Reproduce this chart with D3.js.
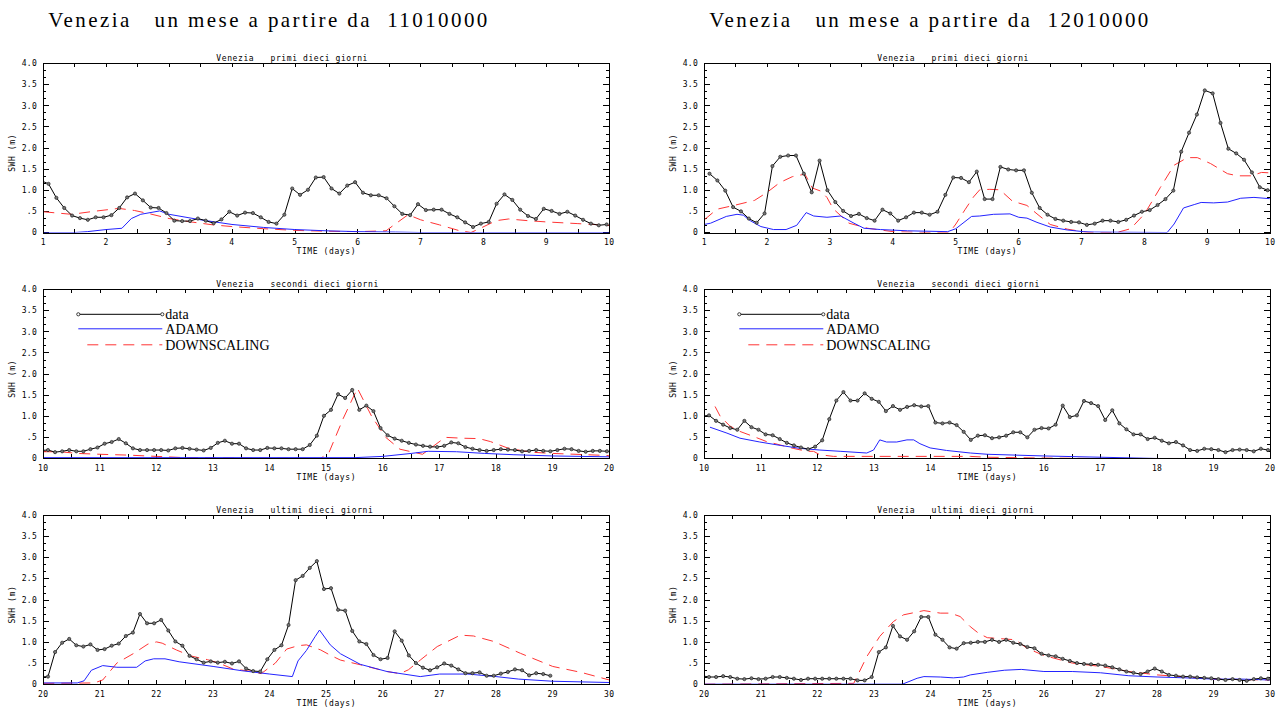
<!DOCTYPE html>
<meta charset="utf-8">
<style>
body { margin: 0; background: #fff; }
svg text { font-family: 'DejaVu Sans Mono', monospace; font-size: 8px; fill: #000; }
svg text.serif { font-family: 'Liberation Serif', serif; }
</style>
<body></body>
<script src="https://cdn.jsdelivr.net/npm/d3@7"></script>
<script>
var width = 1279,
    height = 711

var monthLabels = ['11010000', '12010000']
var panelNames = ['primi dieci giorni', 'secondi dieci giorni', 'ultimi dieci giorni']
var panelDays = [[1, 10], [10, 20], [20, 30]]
var yTicks = [0, .5, 1, 1.5, 2, 2.5, 3, 3.5, 4]
var yTickLabels = ['0', '.5', '1.0', '1.5', '2.0', '2.5', '3.0', '3.5', '4.0']
var seriesNames = ['data', 'ADAMO', 'DOWNSCALING']

// observed SWH, one value every 3 hours
var obsStep = 1 / 8
var obsStartA = 0.958
var obsA = [
  1.23,
  1.15,0.82,0.58,0.40,0.34,0.30,0.36,0.36,
  0.41,0.58,0.83,0.92,0.76,0.59,0.58,0.46,
  0.28,0.27,0.27,0.33,0.28,0.22,0.31,0.49,
  0.40,0.47,0.46,0.36,0.25,0.21,0.42,1.04,
  0.89,1.01,1.30,1.31,1.04,0.92,1.11,1.19,
  0.94,0.88,0.88,0.81,0.62,0.44,0.41,0.67,
  0.53,0.54,0.54,0.44,0.36,0.24,0.13,0.21,
  0.25,0.68,0.90,0.77,0.54,0.39,0.32,0.56,
  0.51,0.44,0.49,0.40,0.30,0.21,0.17,0.19,
  0.20,0.15,0.17,0.20,0.17,0.17,0.22,0.26,
  0.35,0.39,0.46,0.36,0.24,0.20,0.20,0.20,
  0.20,0.19,0.24,0.25,0.23,0.21,0.19,0.25,
  0.37,0.42,0.35,0.35,0.24,0.20,0.20,0.25,
  0.24,0.24,0.22,0.22,0.22,0.32,0.54,1.01,
  1.15,1.52,1.43,1.62,1.15,1.25,1.12,0.72,
  0.55,0.47,0.42,0.37,0.33,0.30,0.28,0.27,
  0.30,0.38,0.36,0.27,0.23,0.20,0.18,0.20,
  0.22,0.21,0.20,0.17,0.18,0.20,0.18,0.17,
  0.20,0.23,0.22,0.18,0.16,0.18,0.18,0.17,
  0.18,0.76,0.98,1.07,0.92,0.89,0.94,0.81,
  0.83,0.91,0.96,1.14,1.22,1.66,1.44,1.44,
  1.52,1.27,1.01,0.91,0.67,0.59,0.51,0.54,
  0.51,0.53,0.49,0.54,0.37,0.31,0.30,0.59,
  0.81,0.92,1.40,2.46,2.56,2.75,2.91,2.25,
  2.27,1.76,1.74,1.26,1.01,0.95,0.69,0.59,
  0.62,1.25,1.03,0.68,0.50,0.39,0.33,0.40,
  0.49,0.44,0.35,0.26,0.26,0.28,0.20,0.20,
  0.25,0.29,0.35,0.33,0.21,0.26,0.24,0.20
]
var obsStartB = 1.083
var obsB = [
  1.39,1.23,0.99,0.60,0.50,0.33,0.23,0.45,
  1.57,1.79,1.82,1.82,1.39,0.95,1.70,1.00,
  0.72,0.51,0.39,0.44,0.34,0.28,0.54,0.45,
  0.28,0.36,0.47,0.47,0.42,0.49,0.89,1.30,
  1.29,1.19,1.44,0.79,0.79,1.55,1.49,1.47,
  1.47,0.94,0.58,0.42,0.32,0.28,0.25,0.24,
  0.18,0.21,0.28,0.28,0.25,0.30,0.40,0.49,
  0.53,0.65,0.79,0.99,1.91,2.36,2.79,3.36,
  3.29,2.59,1.98,1.87,1.72,1.42,1.07,1.00,
  1.02,0.89,0.80,0.72,0.68,0.89,0.74,0.68,
  0.57,0.55,0.46,0.37,0.31,0.26,0.22,0.28,
  0.43,0.93,1.37,1.57,1.37,1.37,1.54,1.41,
  1.34,1.12,1.24,1.15,1.22,1.26,1.23,1.24,
  0.85,0.83,0.85,0.79,0.63,0.44,0.54,0.55,
  0.48,0.50,0.54,0.62,0.62,0.50,0.68,0.72,
  0.71,0.80,1.25,0.98,1.02,1.36,1.31,1.24,
  0.91,1.14,0.83,0.69,0.57,0.57,0.46,0.49,
  0.42,0.36,0.39,0.31,0.20,0.18,0.23,0.22,
  0.20,0.15,0.20,0.21,0.20,0.17,0.23,0.20,
  0.17,0.17,0.19,0.17,0.13,0.12,0.14,0.12,
  0.13,0.17,0.17,0.15,0.13,0.10,0.13,0.13,
  0.13,0.13,0.13,0.13,0.13,0.09,0.09,0.17,
  0.76,0.87,1.38,1.13,1.05,1.25,1.59,1.59,
  1.17,1.05,0.87,0.84,0.97,0.98,1.00,1.00,
  1.05,1.00,1.05,0.98,0.95,0.88,0.85,0.72,
  0.68,0.66,0.60,0.55,0.50,0.48,0.47,0.46,
  0.44,0.40,0.35,0.30,0.27,0.24,0.30,0.37,
  0.30,0.22,0.20,0.18,0.18,0.16,0.15,0.14,
  0.12,0.10,0.12,0.10,0.08,0.12,0.14,0.13
]

// model curves, [day, SWH]
var adamoA = [
  [1,0],[1.5,0],[1.7,0.02],[2.0,0.07],[2.25,0.1],[2.4,0.33],[2.55,0.43],[2.85,0.51],[3.0,0.43],
  [3.5,0.3],[4.0,0.19],[4.5,0.12],[5.0,0.07],[5.5,0.04],[6.0,0.02],[6.6,0.01],[7,0],[9.99,0],
  [10,0.02],[15.5,0.02],[16.0,0.05],[16.5,0.12],[16.8,0.17],[17.3,0.16],[17.8,0.12],[18.3,0.09],
  [19,0.06],[19.99,0.04],
  [20,0.03],[20.6,0.03],[20.72,0.08],[20.85,0.33],[21.05,0.44],[21.3,0.4],[21.65,0.4],[21.8,0.55],
  [21.95,0.6],[22.15,0.6],[22.4,0.53],[23,0.42],[23.5,0.32],[24,0.24],[24.4,0.18],[24.5,0.55],
  [24.65,0.8],[24.8,1.12],[24.88,1.28],[25.07,0.93],[25.25,0.72],[25.6,0.47],[26.07,0.3],
  [26.66,0.18],[27.0,0.24],[27.5,0.24],[28,0.18],[28.4,0.12],[29,0.07],[30,0.04]
]
var downA = [
  [1,0.49],[1.45,0.43],[1.8,0.5],[2.2,0.57],[2.45,0.52],[2.7,0.44],[3.0,0.33],[3.3,0.26],
  [3.7,0.18],[4.0,0.14],[4.5,0.09],[5.0,0.05],[5.5,0.03],[6.0,0.02],[6.45,0.04],[6.55,0.15],
  [6.8,0.42],[7.0,0.3],[7.3,0.18],[7.6,0.05],[7.8,0.0],[7.95,0.1],[8.2,0.28],[8.4,0.32],
  [8.7,0.28],[9.0,0.25],[9.5,0.21],[9.99,0.17],
  [10,0.16],[10.3,0.16],[10.6,0.12],[11,0.1],[11.5,0.08],[12,0.05],[12.5,0.02],[13,0.01],
  [14.9,0.0],[15.05,0.15],[15.3,0.95],[15.55,1.66],[15.8,1.0],[16.05,0.5],[16.3,0.22],
  [16.7,0.1],[16.9,0.3],[17.1,0.5],[17.4,0.48],[17.7,0.47],[17.9,0.4],[18.2,0.25],[18.6,0.15],
  [19.0,0.12],[19.99,0.07],
  [20,0.02],[20.9,0.03],[21.05,0.1],[21.3,0.5],[21.6,0.73],[21.85,0.95],[22.0,1.0],[22.1,0.97],
  [22.35,0.81],[22.6,0.67],[22.9,0.58],[23.1,0.5],[23.35,0.36],[23.7,0.3],[23.85,0.25],
  [24.1,0.5],[24.3,0.83],[24.5,0.91],[24.65,0.93],[24.9,0.81],[25.05,0.7],[25.25,0.57],
  [25.6,0.46],[26.07,0.3],[26.3,0.25],[26.45,0.34],[26.66,0.57],[26.96,0.89],[27.37,1.16],
  [27.6,1.14],[27.96,1.01],[28.43,0.73],[29,0.42],[29.5,0.28],[30,0.1]
]
var adamoB = [
  [1.0,0.19],[1.1,0.22],[1.35,0.38],[1.52,0.43],[1.62,0.41],[1.73,0.28],[1.9,0.14],[2.1,0.07],
  [2.3,0.07],[2.47,0.17],[2.62,0.47],[2.74,0.39],[2.95,0.36],[3.17,0.39],[3.38,0.22],[3.54,0.1],
  [3.8,0.07],[4.23,0.04],[4.87,0.02],[5.0,0.09],[5.25,0.38],[5.38,0.39],[5.6,0.43],[5.86,0.44],
  [6.0,0.36],[6.13,0.34],[6.29,0.24],[6.5,0.13],[6.77,0.06],[7.03,0.02],[7.2,0.01],[8.36,0.0],
  [8.47,0.2],[8.62,0.58],[8.79,0.66],[8.9,0.71],[9.1,0.7],[9.32,0.72],[9.53,0.81],[9.74,0.83],
  [9.99,0.8],
  [10.1,0.74],[10.4,0.6],[10.63,0.48],[10.98,0.39],[11.34,0.31],[11.69,0.24],[12.04,0.2],
  [12.4,0.17],[12.87,0.13],[12.99,0.2],[13.1,0.44],[13.22,0.39],[13.4,0.39],[13.58,0.44],
  [13.7,0.44],[13.81,0.35],[13.99,0.25],[14.28,0.19],[14.7,0.13],[15.0,0.1],[16,0.06],[17,0.03],
  [18,0.0],[19.99,0.0],
  [20,0.0],[23.5,0.0],[23.76,0.14],[23.88,0.18],[24.17,0.17],[24.4,0.15],[24.58,0.17],[24.7,0.22],
  [25.0,0.28],[25.3,0.33],[25.6,0.35],[26,0.3],[26.5,0.3],[27,0.27],[27.5,0.2],[28,0.17],
  [28.5,0.15],[29,0.12],[29.5,0.12],[30,0.1]
]
var downB = [
  [1.0,0.3],[1.2,0.55],[1.5,0.65],[1.8,0.76],[2.0,0.95],[2.2,1.18],[2.4,1.32],[2.6,1.38],
  [2.72,1.05],[2.85,0.98],[2.95,0.83],[3.05,0.56],[3.3,0.22],[3.6,0.1],[4.0,0.02],[4.5,0.0],
  [4.9,0.0],[5.0,0.2],[5.15,0.55],[5.28,0.84],[5.38,1.01],[5.54,1.02],[5.7,1.01],[5.9,0.74],
  [6.13,0.64],[6.29,0.44],[6.5,0.19],[6.77,0.08],[7.1,0.0],[7.56,0.0],[7.78,0.09],[8.0,0.44],
  [8.25,1.06],[8.47,1.59],[8.68,1.77],[8.84,1.77],[9.05,1.63],[9.32,1.39],[9.48,1.34],[9.7,1.34],
  [9.86,1.42],[9.99,1.41],
  [10.19,1.23],[10.28,1.0],[10.45,0.77],[10.63,0.64],[10.87,0.52],[11.1,0.4],[11.34,0.32],
  [11.57,0.24],[11.81,0.17],[11.93,0.17],[12.04,0.09],[12.28,0.05],[14.7,0.05],[15,0.03],
  [16,0.01],[17,0.0],[19.99,0.0],
  [20,0.0],[22.64,0.02],[22.87,0.65],[23.1,1.13],[23.34,1.48],[23.52,1.64],[23.88,1.74],
  [24.17,1.68],[24.35,1.68],[24.52,1.6],[24.7,1.36],[24.85,1.2],[25.0,1.1],[25.5,1.05],
  [25.7,0.85],[26.0,0.68],[26.5,0.5],[27,0.42],[27.5,0.3],[28,0.22],[28.5,0.17],[29,0.12],[30,0.1]
]

var colLeft = [43.3, 704.3],
    rowTop = [63.3, 289.3, 515],
    plotW = 566,
    plotH = 169.2

var blue = '#2323ff',
    red = '#ff3434'

var months = [
  {label: monthLabels[0], obs: obsA.map(function(v, i){ return [obsStartA + i * obsStep, v] }), adamo: adamoA, down: downA},
  {label: monthLabels[1], obs: obsB.map(function(v, i){ return [obsStartB + i * obsStep, v] }), adamo: adamoB, down: downB}
]

var svg = d3.select('body').append('svg')
    .attr('width', width)
    .attr('height', height)

months.forEach(function(m, c){
  svg.append('text')
      .attr('class', 'serif')
      .attr('x', colLeft[c] + 5)
      .attr('y', 27)
      .attr('textLength', 439)
      .attr('lengthAdjust', 'spacing')
      .style('font-size', '21px')
      .style('white-space', 'pre')
      .text('Venezia   un mese a partire da  ' + m.label)

  panelDays.forEach(function(days, p){
    drawPanel(m, c, p, days)
  })
})

function drawPanel(m, c, p, days){
  var g = svg.append('g')
      .attr('transform', 'translate(' + colLeft[c] + ',' + rowTop[p] + ')')

  var x = d3.scaleLinear().domain(days).range([0, plotW])
  var y = d3.scaleLinear().domain([0, 4]).range([plotH, 0])

  var clipId = 'clip-' + c + '-' + p
  g.append('clipPath').attr('id', clipId)
    .append('rect').attr('width', plotW).attr('height', plotH)

  // y ticks, both sides
  var minor = d3.range(0, 4.0001, 0.5 / 3)
  g.selectAll('.ymin').data(minor).join('path')
      .attr('d', function(d){ var yy = Math.round(y(d)) + .5; return 'M0,' + yy + 'h3M' + plotW + ',' + yy + 'h-3' })
      .attr('stroke', '#000').attr('shape-rendering', 'crispEdges')
  g.selectAll('.ymaj').data(yTicks).join('path')
      .attr('d', function(d){ var yy = Math.round(y(d)) + .5; return 'M0,' + yy + 'h6M' + plotW + ',' + yy + 'h-6' })
      .attr('stroke', '#000').attr('shape-rendering', 'crispEdges')
  g.selectAll('.ylab').data(yTicks).join('text')
      .attr('x', -6)
      .attr('y', function(d){ return y(d) + 3 })
      .attr('text-anchor', 'end')
      .style('letter-spacing', '0.4px')
      .text(function(d, i){ return yTickLabels[i] })

  // x ticks, top and bottom
  var xt = d3.range(days[0], days[1] + 0.001, 0.5)
  g.selectAll('.xt').data(xt).join('path')
      .attr('d', function(d){ var xx = Math.round(x(d)) + .5; return 'M' + xx + ',0v4M' + xx + ',' + plotH + 'v-4' })
      .attr('stroke', '#000').attr('shape-rendering', 'crispEdges')
  g.selectAll('.xlab').data(x.ticks(days[1] - days[0])).join('text')
      .attr('x', function(d){ return x(d) })
      .attr('y', plotH + 12.5)
      .attr('text-anchor', 'middle')
      .style('letter-spacing', '0.4px')
      .text(function(d){ return d })

  g.append('text')
      .attr('x', plotW / 2)
      .attr('y', plotH + 21.5)
      .attr('text-anchor', 'middle')
      .style('letter-spacing', '0.6px')
      .text('TIME (days)')

  g.append('text')
      .attr('transform', 'translate(-28,' + (plotH / 2 + 5) + ') rotate(-90)')
      .attr('text-anchor', 'middle')
      .style('letter-spacing', '0.6px')
      .text('SWH (m)')

  g.append('text')
      .attr('x', 173)
      .attr('y', -2.5)
      .style('letter-spacing', '0.6px')
      .style('white-space', 'pre')
      .text('Venezia   ' + panelNames[p])

  var plot = g.append('g').attr('clip-path', 'url(#' + clipId + ')')

  var line = d3.line()
      .x(function(d){ return x(d[0]) })
      .y(function(d){ return y(d[1]) })

  function inPanel(pad){
    return function(d){ return d[0] >= days[0] - pad && d[0] <= days[1] + pad }
  }

  plot.append('path')
      .attr('d', line(m.down.filter(inPanel(0))))
      .attr('fill', 'none')
      .attr('stroke', red)
      .attr('stroke-dasharray', '11,7')

  plot.append('path')
      .attr('d', line(m.adamo.filter(inPanel(0))))
      .attr('fill', 'none')
      .attr('stroke', blue)

  var obs = m.obs.filter(inPanel(0.05))
  plot.append('path')
      .attr('d', line(obs))
      .attr('fill', 'none')
      .attr('stroke', '#000')

  plot.selectAll('circle').data(obs).join('circle')
      .attr('cx', function(d){ return x(d[0]) })
      .attr('cy', function(d){ return y(d[1]) })
      .attr('r', 1.6)
      .attr('fill', '#777')
      .attr('stroke', '#222')
      .attr('stroke-width', 0.7)

  g.append('rect')
      .attr('x', .5).attr('y', .5)
      .attr('width', plotW).attr('height', plotH)
      .attr('fill', 'none')
      .attr('stroke', '#000')
      .attr('shape-rendering', 'crispEdges')

  if (p == 1) drawLegend(g)
}

function drawLegend(g){
  var ly = [25, 39.5, 55.5]
  var l = g.append('g')

  l.append('line').attr('x1', 35).attr('x2', 119).attr('y1', ly[0]).attr('y2', ly[0])
      .attr('stroke', '#000')
  l.selectAll('circle').data([35, 119]).join('circle')
      .attr('cx', function(d){ return d }).attr('cy', ly[0]).attr('r', 1.6)
      .attr('fill', '#fff').attr('stroke', '#111').attr('stroke-width', 0.8)
  l.append('line').attr('x1', 35).attr('x2', 119).attr('y1', ly[1]).attr('y2', ly[1])
      .attr('stroke', blue)
  l.append('line').attr('x1', 44).attr('x2', 119).attr('y1', ly[2]).attr('y2', ly[2])
      .attr('stroke', red).attr('stroke-dasharray', '11,7')

  l.selectAll('text').data(seriesNames).join('text')
      .attr('class', 'serif')
      .attr('x', 122)
      .attr('y', function(d, i){ return ly[i] + 5 })
      .style('font-size', '14px')
      .text(function(d){ return d })
}
</script>
